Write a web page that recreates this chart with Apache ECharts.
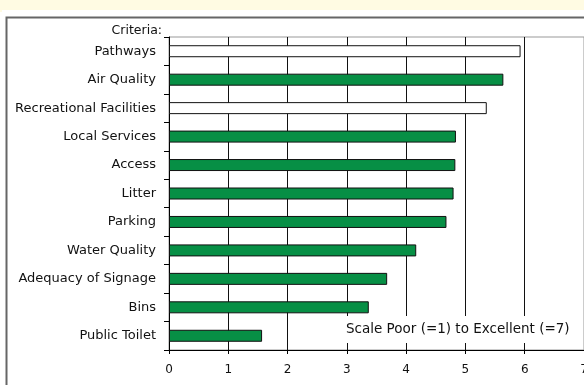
<!DOCTYPE html>
<html>
<head>
<meta charset="utf-8">
<script src="https://cdn.jsdelivr.net/npm/echarts@6/dist/echarts.min.js"></script>
<style>
  html, body { margin: 0; padding: 0; background: #fff; }
  #main { width: 584px; height: 385px; }
</style>
</head>
<body>
<div id="main"></div>
<script>
// criteria, top to bottom
const criteria = ['Pathways', 'Air Quality', 'Recreational Facilities', 'Local Services', 'Access',
  'Litter', 'Parking', 'Water Quality', 'Adequacy of Signage', 'Bins', 'Public Toilet'];
const scores = [5.93, 5.64, 5.36, 4.84, 4.83, 4.80, 4.68, 4.17, 3.68, 3.37, 1.57];
// criteria drawn as hollow (white) bars
const hollow = ['Pathways', 'Recreational Facilities'];
const xTicks = [0, 1, 2, 3, 4, 5, 6, 7];

const chart = echarts.init(document.getElementById('main'));
const font = 'DejaVu Sans, Verdana, sans-serif';

option = {
  backgroundColor: '#fff',
  animation: false,
  textStyle: { fontFamily: font },
  grid: {
    left: 169, top: 37, width: 415, height: 313,
    outerBoundsMode: 'none',
    containLabel: false,
    show: true, borderColor: '#999', borderWidth: 1, backgroundColor: 'transparent'
  },
  xAxis: {
    type: 'value',
    min: xTicks[0],
    max: xTicks[xTicks.length - 1],
    interval: 1,
    axisLine: { show: true, lineStyle: { color: '#000', width: 1 } },
    axisTick: { show: true, length: 4, lineStyle: { color: '#000' } },
    axisLabel: { color: '#111', fontSize: 12, margin: 14, fontFamily: font },
    splitLine: { show: true, lineStyle: { color: '#111', width: 1 } }
  },
  yAxis: {
    type: 'category',
    inverse: true,
    data: criteria,
    name: 'Criteria:',
    nameLocation: 'start',
    nameGap: 0,
    nameTextStyle: { color: '#111', fontSize: 12.5, align: 'right', padding: [0, 7, 0, 0], fontFamily: font },
    axisLine: { show: true, lineStyle: { color: '#000' } },
    axisTick: { show: true, length: 5, lineStyle: { color: '#000' } },
    axisLabel: { color: '#111', fontSize: 13, margin: 13, fontFamily: font },
    splitLine: { show: false }
  },
  series: [{
    type: 'bar',
    barWidth: 12,
    data: scores.map(function (v, i) {
      return {
        value: v,
        itemStyle: {
          color: hollow.indexOf(criteria[i]) >= 0 ? '#ffffff' : '#078f45',
          borderColor: '#111',
          borderWidth: 1
        }
      };
    })
  }],
  graphic: [
    { type: 'rect', left: 0, top: 0, z: 100, shape: { width: 584, height: 10 }, style: { fill: '#fffbe3' }, silent: true },
    { type: 'rect', left: 0, top: 0, z: 100, shape: { width: 2, height: 12 }, style: { fill: '#fffbe3' }, silent: true },
    { type: 'polyline', z: 100, shape: { points: [[6.5, 385], [6.5, 17.5], [584, 17.5]] },
      style: { stroke: '#666', lineWidth: 2, fill: null }, silent: true },
    { type: 'rect', z: 100, left: 343, top: 316, shape: { width: 238, height: 27 }, style: { fill: '#fff' }, silent: true },
    { type: 'text', z: 101, left: 346, top: 322,
      style: { text: 'Scale Poor (=1) to Excellent (=7)', fill: '#111', fontSize: 13.5, fontFamily: font } }
  ]
};

chart.setOption(option);
window.addEventListener('resize', function () { chart.resize(); });
</script>
</body>
</html>
